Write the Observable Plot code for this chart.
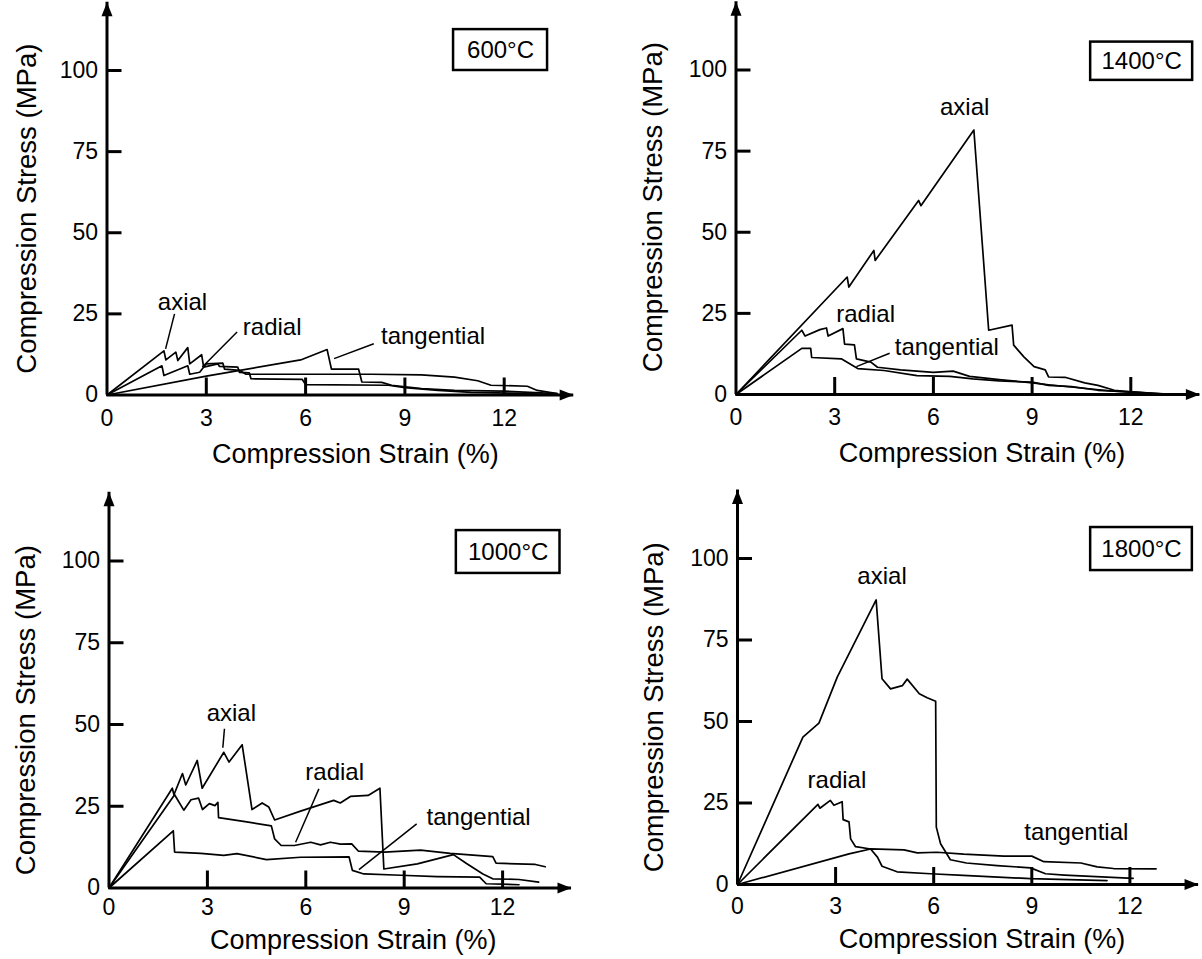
<!DOCTYPE html>
<html><head><meta charset="utf-8">
<script src="https://cdn.jsdelivr.net/npm/d3@7"></script>
<script src="https://cdn.jsdelivr.net/npm/@observablehq/plot@0.6"></script>
<style>
body{margin:0;background:#fff;}
#wrap{position:relative;width:1202px;height:959px;background:#fff;}
.panel{position:absolute;}
</style></head><body><div id="wrap"></div>
<script>
// ---- tick values / labels ----
const xTickMarks = [3, 6, 9, 12];
const xTickLabels = [0, 3, 6, 9, 12];
const yTickMarks = [25, 50, 75, 100];
const yTickLabels = [0, 25, 50, 75, 100];
const temperatures = ["600°C", "1400°C", "1000°C", "1800°C"];
const seriesNames = ["axial", "radial", "tangential"];
const xTitle = "Compression Strain (%)";
const yTitle = "Compression Stress (MPa)";

// ---- 600°C ----
const axial600 = [[0,0],[1.72,13.6],[1.78,10.8],[2.08,13.2],[2.14,10.6],[2.44,14.6],[2.5,9.6],[2.86,12.4],[2.92,8.6],[3.35,9.6],[3.4,8.8],[3.95,8.6],[4.0,7.0],[4.3,6.8],[4.35,5.0],[5.9,4.8],[6.0,3.2],[8.5,3.0],[9.0,2.3],[10.0,1.4],[11.0,0.8],[12.5,0.5],[13.2,0.2]];
const radial600 = [[0,0],[1.66,9.0],[1.72,6.0],[2.44,9.0],[2.5,6.4],[2.8,7.0],[3.0,9.6],[3.5,9.8],[3.55,8.0],[4.0,7.6],[4.2,6.4],[5.0,6.4],[8.0,6.4],[9.5,6.2],[10.5,5.5],[11.2,4.4],[11.6,3.0],[12.7,2.7],[13.0,1.4],[13.6,0.4]];
const tangential600 = [[0,0],[3.0,5.8],[5.85,10.8],[6.65,14.0],[6.78,8.0],[7.6,8.0],[7.7,4.0],[8.3,3.9],[8.6,3.0],[9.5,2.0],[10.5,1.4],[12.0,1.2],[13.6,0.4]];

// ---- 1400°C ----
const axial1400 = [[0,0],[3.38,36.2],[3.43,33.1],[4.19,44.4],[4.23,41.3],[5.55,59.8],[5.62,58.2],[7.23,81.5],[7.68,19.8],[8.39,21.4],[8.44,15.2],[8.75,11.6],[9.06,8.6],[9.4,7.6],[9.5,5.4],[10.0,5.3],[10.6,3.6],[11.0,2.8],[11.5,1.3],[12.0,0.8],[12.9,0.2]];
const radial1400 = [[0,0],[2.0,19.8],[2.1,18.0],[2.55,20.0],[2.75,20.5],[2.8,18.0],[3.25,20.3],[3.3,15.5],[3.6,15.3],[3.66,11.0],[4.1,10.0],[4.3,8.4],[5.0,7.6],[6.0,6.8],[6.6,7.2],[7.1,5.6],[8.0,4.6],[9.0,3.6],[9.5,3.0],[10.5,2.0],[11.5,1.0],[12.5,0.4]];
const tangential1400 = [[0,0],[2.0,14.2],[2.27,14.2],[2.3,11.4],[3.2,11.0],[3.7,8.0],[4.5,7.4],[5.5,5.8],[6.5,5.6],[7.2,4.8],[8.0,4.2],[9.0,3.8],[9.5,2.8],[10.2,2.4],[11.0,1.3],[12.0,0.8],[13.0,0.2]];

// ---- 1000°C ----
const axial1000 = [[0,0],[1.93,30.5],[1.98,28.5],[2.24,35],[2.34,31.5],[2.69,39],[2.84,30.5],[3.5,41.5],[3.66,38.5],[4.06,43.8],[4.36,24],[4.67,26],[4.87,24.8],[5.05,20.8],[5.84,23.5],[6.85,26.8],[7.05,26],[7.36,28],[7.9,28.3],[8.26,30.5],[8.38,5.8],[9.4,7.4],[10.5,10.2],[10.9,7.5],[11.4,4.3],[11.7,2.8],[12.5,2.6],[13.1,1.8]];
const radial1000 = [[0,0],[2.0,28.5],[2.28,23.8],[2.5,27],[2.73,27.5],[2.85,24],[3.06,25.8],[3.23,25.2],[3.32,26.2],[3.34,21.5],[4.2,20.2],[4.95,19],[5.05,15],[5.25,13],[5.65,13],[6.15,14],[6.45,13.2],[6.75,14],[7.06,13.4],[7.4,13.5],[7.6,11.3],[8.4,11],[9.5,11.6],[10.4,10.6],[11.7,9.6],[11.8,7.6],[13.0,7.2],[13.3,6.5]];
const tangential1000 = [[0,0],[1.96,17.5],[2.0,11],[2.8,10.6],[3.5,10],[3.9,10.5],[4.8,8.7],[5.84,9.4],[7.32,9.5],[7.42,5.4],[7.77,4.3],[8.9,3.9],[10.0,3.5],[11.3,3.3],[11.5,1.3],[12.5,1.0]];

// ---- 1800°C ----
const axial1800 = [[0,0],[2.0,45.2],[2.49,49.5],[3.05,63.6],[4.24,87.3],[4.42,63.1],[4.68,60.0],[5.04,61.0],[5.19,63.0],[5.56,58.5],[5.8,57.3],[6.06,56.2],[6.08,17.6],[6.21,12.5],[6.51,7.6],[7.0,6.6],[7.94,5.8],[8.96,5.1],[9.42,3.3],[10.0,2.9],[12.1,1.9]];
const radial1800 = [[0,0],[2.46,24.6],[2.52,23.4],[2.84,25.8],[2.95,24.3],[3.2,25.4],[3.23,19.9],[3.41,19.2],[3.46,14.0],[3.61,11.6],[4.07,10.9],[4.28,8.4],[4.42,5.6],[4.88,3.9],[5.9,3.3],[6.9,2.8],[8.96,1.8],[11.3,1.2]];
const tangential1800 = [[0,0],[3.41,9.4],[4.07,10.9],[5.09,10.6],[5.5,9.7],[6.1,9.9],[6.92,9.3],[8.15,8.7],[9.0,8.7],[9.37,7.0],[10.5,6.6],[11.0,5.4],[11.5,4.9],[12.8,4.8]];

// ---- annotations (data units) ----
const labelAnchors = [
  [[2.28,28.6],[4.99,20.9],[9.85,18.2]],
  [[6.95,88.6],[3.94,24.6],[6.41,14.6]],
  [[3.73,53.5],[6.88,35.4],[11.27,21.7]],
  [[4.42,94.6],[3.04,32.0],[10.36,16.1]]
];
const leaderLines = [
  [[2.04,25.0,1.77,14.2],[3.93,19.4,2.88,8.6],[8.06,15.8,6.86,11.2]],
  [[4.67,12.7,3.66,8.6]],
  [[3.52,48.7,3.47,42.9],[6.4,30.3,5.69,14.0],[9.38,19.6,7.62,5.6]],
  []
];
const tempBoxes = [[10.47,13.31,100.0,112.6],[10.78,13.88,96.8,108.6],[10.59,13.75,96.2,109.3],[10.8,13.91,96.3,109.5]];

const XMAX = 14.1, YMAX = 121;
const FONT = "'Liberation Sans', Arial, Helvetica, sans-serif";

const panels = [
  {left:0,   top:0,   w:600, h:480, x0:106.5, ux:33.1, y0:394.5, uy:3.245, xpad:15, xt:[15,59], yt:[-79.5,10], series:[axial600,radial600,tangential600]},
  {left:600, top:0,   w:602, h:480, x0:135.5, ux:32.9, y0:394,   uy:3.245, xpad:14, xt:[14,59], yt:[-82.5,9],  series:[axial1400,radial1400,tangential1400]},
  {left:0,   top:480, w:600, h:479, x0:108.5, ux:32.8, y0:407.5, uy:3.27,  xpad:11, xt:[13,52], yt:[-82.5,20], series:[axial1000,radial1000,tangential1000]},
  {left:600, top:480, w:602, h:479, x0:137,   ux:32.7, y0:404,   uy:3.26,  xpad:13, xt:[14,55], yt:[-83,20],   series:[axial1800,radial1800,tangential1800]}
];

const arrowRight = {draw(ctx){ ctx.moveTo(0,0); ctx.lineTo(-14,-5.5); ctx.lineTo(-14,5.5); ctx.closePath(); }};
const arrowUp = {draw(ctx){ ctx.moveTo(0,0); ctx.lineTo(-5.5,14); ctx.lineTo(5.5,14); ctx.closePath(); }};

const wrap = document.getElementById("wrap");
panels.forEach((p, i) => {
  const rows = [];
  p.series.forEach((pts, k) => pts.forEach(([x, y]) => rows.push({name: seriesNames[k], x, y})));
  const labels = labelAnchors[i].map(([x, y], k) => ({x, y, text: seriesNames[k]}));
  const leaders = leaderLines[i].map(([x1, y1, x2, y2]) => ({x1, y1, x2, y2}));
  const [bx1, bx2, by1, by2] = tempBoxes[i];
  const chart = Plot.plot({
    width: p.w, height: p.h,
    marginLeft: p.x0,
    marginRight: p.w - p.x0 - XMAX * p.ux,
    marginTop: p.y0 - YMAX * p.uy,
    marginBottom: p.h - p.y0,
    x: {domain: [0, XMAX], ticks: xTickLabels, tickSize: 0, tickPadding: p.xpad, label: null},
    y: {domain: [0, YMAX], ticks: yTickLabels, tickSize: 0, tickPadding: 9, label: null},
    style: {fontFamily: FONT, fontSize: "23px", color: "black", background: "white", overflow: "visible"},
    marks: [
      Plot.line(rows, {x: "x", y: "y", z: "name", stroke: "black", strokeWidth: 1.7}),
      Plot.link(leaders, {x1: "x1", y1: "y1", x2: "x2", y2: "y2", stroke: "black", strokeWidth: 1.5}),
      Plot.ruleY([0], {x1: 0, x2: XMAX, stroke: "black", strokeWidth: 3}),
      Plot.ruleX([0], {y1: 0, y2: YMAX, stroke: "black", strokeWidth: 3}),
      Plot.ruleX(xTickMarks, {x: d => d, y1: 0, y2: 0, insetTop: -17, stroke: "black", strokeWidth: 3}),
      Plot.ruleY(yTickMarks, {y: d => d, x1: 0, x2: 0, insetRight: -15, stroke: "black", strokeWidth: 3}),
      Plot.dot([XMAX], {x: d => d, y: 0, symbol: arrowRight, r: 5, fill: "black", stroke: "none"}),
      Plot.dot([YMAX], {x: 0, y: d => d, symbol: arrowUp, r: 5, fill: "black", stroke: "none"}),
      Plot.text(labels, {x: "x", y: "y", text: "text", fontSize: 24, fill: "black"}),
      Plot.rect([tempBoxes[i]], {x1: bx1, x2: bx2, y1: by1, y2: by2, fill: "white", stroke: "black", strokeWidth: 2.5}),
      Plot.text([temperatures[i]], {x: (bx1 + bx2) / 2, y: (by1 + by2) / 2, fontSize: 24, fill: "black"}),
      Plot.text([xTitle], {frameAnchor: "bottom", textAnchor: "middle", lineAnchor: "middle", dx: p.xt[0], dy: p.xt[1], fontSize: 27, fill: "black"}),
      Plot.text([yTitle], {frameAnchor: "left", textAnchor: "middle", lineAnchor: "middle", rotate: -90, dx: p.yt[0], dy: p.yt[1], fontSize: 27.5, fill: "black"})
    ]
  });
  const div = document.createElement("div");
  div.className = "panel";
  div.style.left = p.left + "px";
  div.style.top = p.top + "px";
  div.appendChild(chart);
  wrap.appendChild(div);
});
</script>
</body></html>
